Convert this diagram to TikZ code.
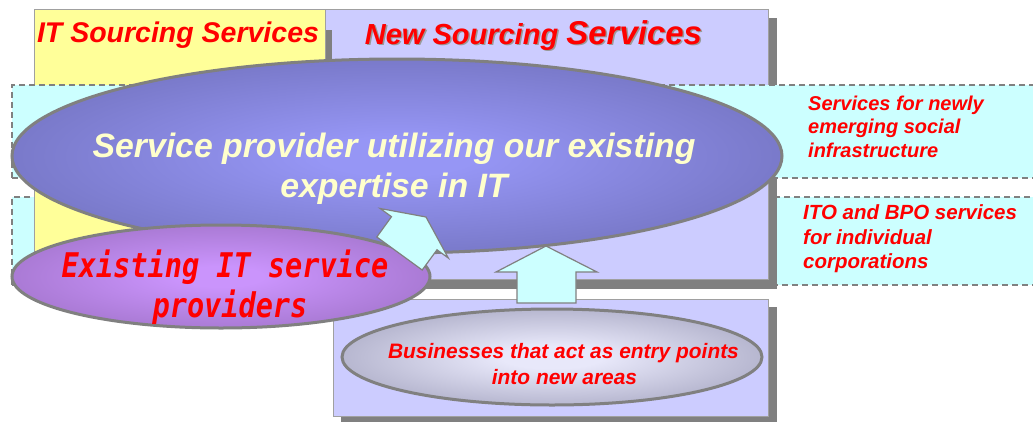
\documentclass[tikz,border=0pt]{standalone}
\usepackage{fontspec}
\setmainfont{Liberation Sans}
\newfontfamily\gothic{DejaVu Sans Mono}[FakeStretch=0.84]
\usetikzlibrary{shapes.geometric}
\definecolor{lav}{RGB}{204,204,255}
\definecolor{yel}{RGB}{255,255,153}
\definecolor{cya}{RGB}{204,255,255}
\definecolor{gry}{RGB}{128,128,128}
\definecolor{ltyel}{RGB}{255,255,204}
\definecolor{redt}{RGB}{255,0,0}
\definecolor{bigin}{RGB}{150,150,245}
\definecolor{bigout}{RGB}{86,86,148}
\definecolor{purin}{RGB}{202,148,252}
\definecolor{purout}{RGB}{130,90,164}
\definecolor{busin}{RGB}{232,232,250}
\definecolor{busout}{RGB}{118,118,152}
\pgfdeclareradialshading{bigshade}{\pgfpoint{0bp}{0bp}}{color(0bp)=(bigin); color(5bp)=(bigin); color(50bp)=(bigout)}
\pgfdeclareradialshading{purshade}{\pgfpoint{0bp}{0bp}}{color(0bp)=(purin); color(5bp)=(purin); color(50bp)=(purout)}
\pgfdeclareradialshading{busshade}{\pgfpoint{0bp}{0bp}}{color(0bp)=(busin); color(6bp)=(busin); color(50bp)=(busout)}
\begin{document}
\begin{tikzpicture}[x=1pt,y=-1pt,
  panel/.style={draw=gry!75, line width=1pt, anchor=north west, inner sep=0pt, outer sep=0pt},
  shadowfill/.style={fill=gry},
  cbox/.style={fill=cya, draw=gry, line width=2pt, dash pattern=on 6pt off 4pt, anchor=north west, inner sep=0pt, outer sep=0pt},
  ell/.style={ellipse, draw=gry, line width=3pt, inner sep=0pt},
  blockarrow/.style={fill=cya, draw=gry, line width=1.2pt, line join=miter},
  redlab/.style={text=redt, font=\bfseries\itshape, inner sep=0pt},
  biglab/.style={text=ltyel, font=\fontsize{33.8}{40}\selectfont\bfseries\itshape, inner sep=0pt, anchor=base},
  gothlab/.style={text=redt, font=\fontsize{34}{40}\selectfont\gothic\bfseries\itshape, inner sep=0pt, anchor=base},
  sidelab/.style={redlab, font=\fontsize{20}{24}\selectfont\bfseries\itshape, anchor=base west},
  buslab/.style={redlab, font=\fontsize{20.9}{26}\selectfont\bfseries\itshape, anchor=base}
]
\useasboundingbox (0,0) rectangle (1033,421);
\clip (0,0) rectangle (1033,421);

% lower dashed band (behind panels)
\node[cbox, minimum width=1040pt, minimum height=88pt] (bandB) at (12,197) {};

% New Sourcing Services panel
\fill[shadowfill] (334,18) rectangle (777,289);
\node[panel, fill=lav, minimum width=443pt, minimum height=270pt] (newpanel) at (325,9) {};

% IT Sourcing Services panel
\fill[shadowfill] (325,30) rectangle (332,280);
\node[panel, fill=yel, minimum width=291pt, minimum height=262pt] (itpanel) at (34,9) {};

% upper dashed band (over panels)
\node[cbox, minimum width=1040pt, minimum height=93pt] (bandA) at (12,85) {};

% bottom panel
\fill[shadowfill] (341,307) rectangle (777,425);
\node[panel, fill=lav, minimum width=435pt, minimum height=117pt] (botpanel) at (333,299) {};

% ellipses
\node[ell, shading=bigshade, minimum width=770pt, minimum height=194pt] (big) at (397,156) {};
\node[ell, shading=purshade, minimum width=418pt, minimum height=103pt] (exist) at (221,276.5) {};
\node[ell, shading=busshade, minimum width=420pt, minimum height=96pt] (bus) at (552,357) {};

% block arrows
\draw[blockarrow] (376.8,237.0) -- (391.5,216.7) -- (380.2,208.5) -- (426.0,217.0)
  -- (448.3,258.0) -- (437.0,249.8) -- (422.2,270.0) -- cycle;
\draw[blockarrow] (517,303) -- (517,272) -- (496,272) -- (546,246) -- (597,272)
  -- (576,272) -- (576,303) -- cycle;

% panel titles
\node[redlab, font=\fontsize{28.5}{32}\selectfont\bfseries\itshape, anchor=base] (ittitle) at (178,42) {IT Sourcing Services};
\node[text=gry!80, inner sep=0pt, anchor=base] at (535,45.5) {\bfseries\itshape\fontsize{29}{32}\selectfont New Sourcing \fontsize{33}{36}\selectfont Services};
\node[redlab, anchor=base] (newtitle) at (533.5,44) {\bfseries\itshape\fontsize{29}{32}\selectfont New Sourcing \fontsize{33}{36}\selectfont Services};

% big ellipse text
\node[biglab] (bigA) at (394,157) {Service provider utilizing our existing};
\node[biglab] (bigB) at (394,197) {expertise in IT};

% existing providers text
\node[gothlab] (exA) at (225,277) {Existing IT service};
\node[gothlab] (exB) at (230,317) {providers};

% businesses text
\node[buslab] (busA) at (563.5,358) {Businesses that act as entry points};
\node[buslab] (busB) at (564.5,384) {into new areas};

% side labels
\node[sidelab] (sA1) at (808,110) {Services for newly};
\node[sidelab] (sA2) at (808,133) {emerging social};
\node[sidelab] (sA3) at (808,157) {infrastructure};
\node[sidelab, font=\fontsize{20.5}{24}\selectfont\bfseries\itshape] (sB1) at (803,219) {ITO and BPO services};
\node[sidelab, font=\fontsize{20.5}{24}\selectfont\bfseries\itshape] (sB2) at (803,244) {for individual};
\node[sidelab, font=\fontsize{20.5}{24}\selectfont\bfseries\itshape] (sB3) at (803,268) {corporations};
\end{tikzpicture}
\end{document}
